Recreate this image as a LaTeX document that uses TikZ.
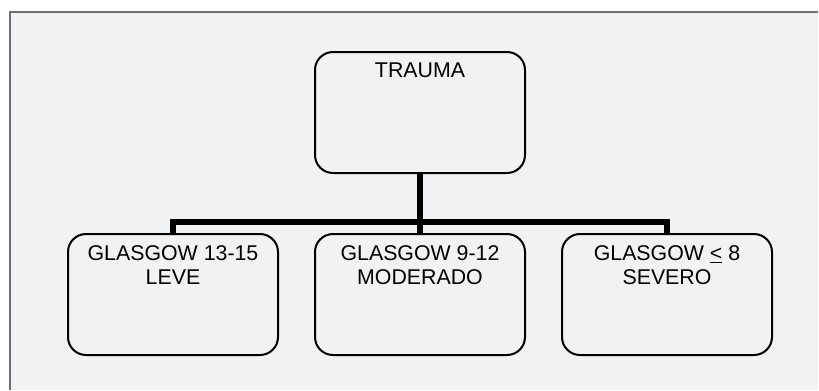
\documentclass[tikz,border=0pt]{standalone}
\usepackage{fontspec}
\setmainfont{Liberation Sans}
\usetikzlibrary{positioning}
\definecolor{fundo}{RGB}{241,242,244}
\definecolor{borda}{RGB}{110,110,110}
\tikzset{
  caixa/.style={draw, line width=1.5pt, rounded corners=13.5pt, minimum width=157.5pt, minimum height=90.75pt, inner sep=0pt},
  rotulo/.style={align=center, inner sep=0pt, font=\fontsize{16}{18.2}\selectfont},
  ligacao/.style={line width=4pt},
}
\begin{document}
\begin{tikzpicture}[x=0.75pt,y=-0.75pt]
\useasboundingbox (0,0) rectangle (819,390);
\fill[fundo] (10,12) rectangle (818,390); % fundo
\draw[borda, line width=1.5pt] (10,390) -- (10,12) -- (818,12); % moldura
\node[caixa] (trauma) at (420,112.5) {}; % topo
\node[caixa] (leve) at (173,294.5) {}; % caixa.1
\node[caixa] (moderado) at (420,294.5) {}; % caixa.2
\node[caixa] (severo) at (667,294.5) {}; % caixa.3
\node[rotulo, below=9pt of trauma.north] (txt0) {TRAUMA};
\node[rotulo, below=9pt of leve.north] (txt1) {GLASGOW 13-15\\LEVE};
\node[rotulo, below=9pt of moderado.north] (txt2) {GLASGOW 9-12\\MODERADO};
\node[rotulo, below=9pt of severo.north] (txt3) {GLASGOW \underline{<} 8\\SEVERO};
\coordinate (juncao) at (420,222);
\draw[ligacao] (trauma.south) -- (juncao); % tronco
\draw[ligacao] (leve.north) |- (juncao) -| (severo.north); % barra
\draw[ligacao] (juncao) -- (moderado.north);
\end{tikzpicture}
\end{document}
